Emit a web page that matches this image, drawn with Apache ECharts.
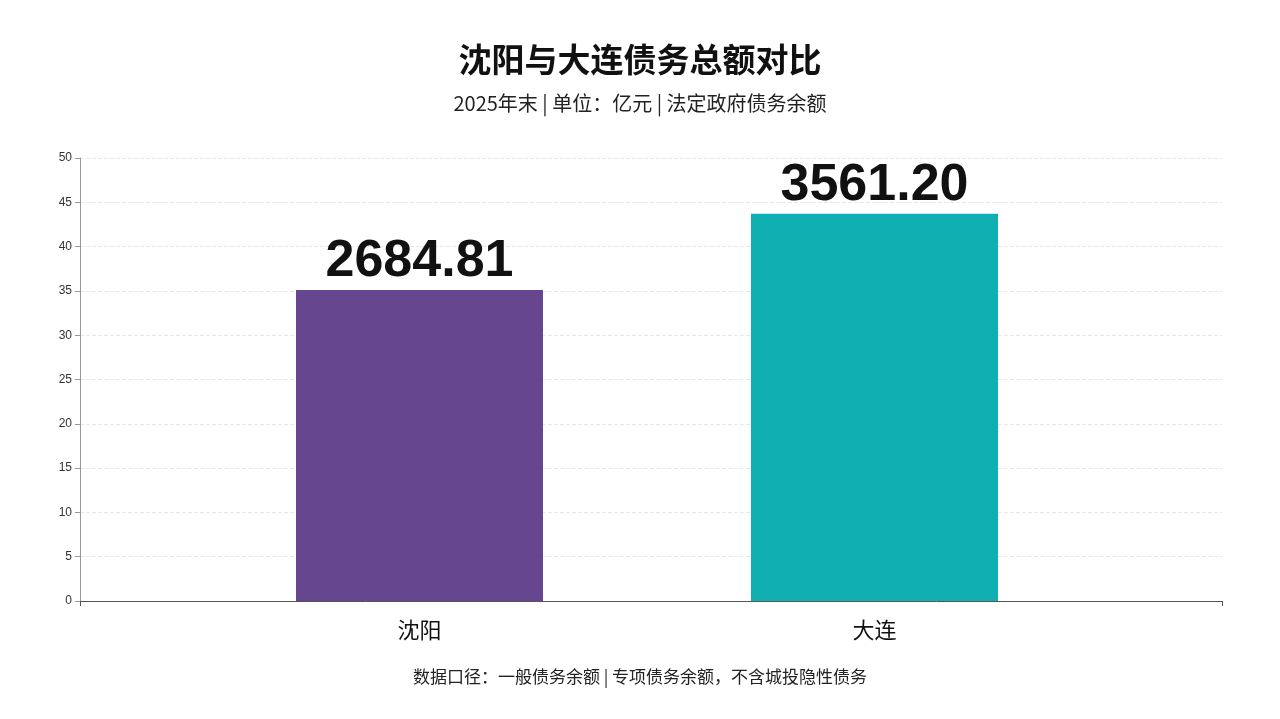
<!DOCTYPE html>
<html><head><meta charset="utf-8">
<script src="https://cdn.jsdelivr.net/npm/echarts@6/dist/echarts.min.js"></script>
<style>html,body{margin:0;background:#fff}#main{width:1280px;height:719px}</style>
</head><body><div id="main"></div>
<script>
const cities = ['沈阳', '大连'];
const debtTotals = ['2684.81', '3561.20'];
const barHeights = [35.1, 43.7];
const barColors = ['#66478f', '#10b0b2'];

const chart = echarts.init(document.getElementById('main'));
chart.setOption({
  backgroundColor: '#fff',
  title: [
    { text: '沈阳与大连债务总额对比', left: 'center', top: 38,
      textStyle: { fontSize: 33, fontWeight: 'bold', color: '#111', fontFamily: 'Noto Sans CJK SC' } },
    { text: '2025年末 | 单位：亿元 | 法定政府债务余额', left: 'center', top: 88,
      textStyle: { fontSize: 20, fontWeight: 'normal', color: '#222', fontFamily: 'Noto Sans CJK SC' } },
    { text: '数据口径：一般债务余额 | 专项债务余额，不含城投隐性债务', left: 'center', top: 663,
      textStyle: { fontSize: 17, fontWeight: 'normal', color: '#222', fontFamily: 'Noto Sans CJK SC' } }
  ],
  grid: [
    { left: 80, right: 58, top: 158, bottom: 118 },
    { left: 192, right: 178, top: 158, bottom: 118 }
  ],
  xAxis: [
    { gridIndex: 0, type: 'value', min: 0, max: 1, interval: 1,
      axisLine: { show: true, lineStyle: { color: '#555' } },
      axisTick: { show: true, lineStyle: { color: '#555' } },
      axisLabel: { show: false }, splitLine: { show: false } },
    { gridIndex: 1, type: 'category', data: cities,
      axisLine: { show: false }, axisTick: { show: false },
      axisLabel: { fontSize: 22, color: '#111', margin: 18, fontFamily: 'Noto Sans CJK SC' },
      splitLine: { show: false } }
  ],
  yAxis: [
    { gridIndex: 0, type: 'value', min: 0, max: 50, interval: 5,
      axisLine: { show: true, lineStyle: { color: '#999' } },
      axisTick: { show: true, lineStyle: { color: '#999' } },
      axisLabel: { fontSize: 12, color: '#333' },
      splitLine: { lineStyle: { type: 'dashed', color: '#e8e8e8' } } },
    { gridIndex: 1, type: 'value', min: 0, max: 50, show: false, splitLine: { show: false } }
  ],
  series: [{
    type: 'bar', xAxisIndex: 1, yAxisIndex: 1, barWidth: 247,
    data: barHeights.map((v, i) => ({
      value: v, itemStyle: { color: barColors[i] },
      label: { show: true, position: 'top', formatter: debtTotals[i], distance: 2,
        fontSize: 52, fontWeight: 'bold', color: '#111', fontFamily: 'Liberation Sans' }
    }))
  }]
});
</script></body></html>
